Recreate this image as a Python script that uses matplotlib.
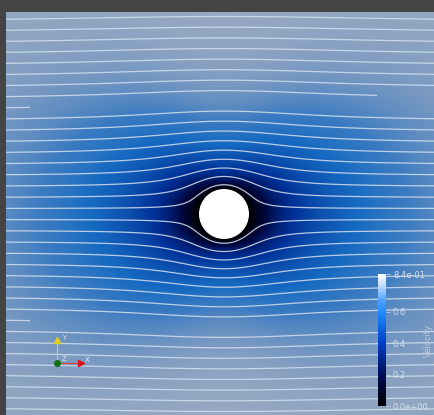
import numpy as np
import matplotlib
matplotlib.use("Agg")
import matplotlib.pyplot as plt
from matplotlib.colors import LinearSegmentedColormap, Normalize
from matplotlib.patches import Circle, Rectangle
from matplotlib.cm import ScalarMappable

# cylinder & flow (lengths in cylinder radii, centre at 0,0)
CYL_RADIUS = 1.0
U_INF = 0.78          # free stream speed
V_MIN, V_MAX = 0.0, 0.84
DIPOLE_R2 = 1.6       # effective dipole strength for streamline bending
DEFICIT_AMP = 0.75    # slow-down next to the body
DECAY_X, DECAY_Y = 3.8, 1.6    # how far the slow zone reaches (along / across flow)
WALL_X, WALL_Y = 0.9, 0.3      # no-slip layer thickness
LINE_SPACING = 11.0 / 25.0     # far field streamline spacing
N_LINES = 19
# seeds that ParaView only traced partly: (index, side, x from, x to)
BROKEN_LINES = [(9, 1, -9.0, -7.76), (10, 1, -9.0, 6.12), (9, -1, -9.0, -7.76)]

# view window
X_LIM = (-8.72, 8.44)
Y_LIM = (-8.04, 8.08)

# colour map nodes (value fraction -> colour)
CMAP_POS = [0.0, 0.24, 0.48, 0.71, 0.8, 0.9, 1.0]
CMAP_COL = ['#000000', '#000c5a', '#0040c8', '#1e8cff', '#4ea2ff', '#b4d4ff', '#ffffff']
SHADE = 0.76

CBAR_TICKS = [0.0, 0.2, 0.4, 0.6, 0.84]
CBAR_LABELS = ['0.0e+00', '0.2', '0.4', '0.6', '8.4e-01']
CBAR_TITLE = 'Velocity'

cmap = LinearSegmentedColormap.from_list('vel', list(zip(CMAP_POS, CMAP_COL)))
norm = Normalize(V_MIN, V_MAX)

x = np.linspace(X_LIM[0], X_LIM[1], 700)
y = np.linspace(Y_LIM[0], Y_LIM[1], 660)
X, Y = np.meshgrid(x, y)
R2 = X**2 + Y**2
R = np.sqrt(R2)
d = np.clip(R - CYL_RADIUS, 0, None)
c2 = X**2 / np.maximum(R2, 1e-9)

# speed magnitude
L = DECAY_Y + (DECAY_X - DECAY_Y) * c2
wall = WALL_Y + (WALL_X - WALL_Y) * c2
speed = U_INF * (1 - DEFICIT_AMP * np.exp(-d / L)) * np.tanh(d / wall)

# stream function
psi = Y * (R2 - 1) / (R2 + DIPOLE_R2 - 1)
psi = np.ma.masked_where(R2 < 1.0, psi)

rgb = cmap(norm(speed))[:, :, :3] * SHADE

fig = plt.figure(figsize=(4.35, 4.15), dpi=100, facecolor='#444444')
ax = fig.add_axes([6 / 435, 0, 429 / 435, 403 / 415])
ax.imshow(rgb, extent=(X_LIM[0], X_LIM[1], Y_LIM[0], Y_LIM[1]),
          origin='lower', interpolation='bilinear', aspect='auto')

line_kw = dict(colors='#d4e0ee', linewidths=0.9, alpha=0.85, linestyles='solid')
offs = (np.arange(N_LINES) + 0.5) * LINE_SPACING
broken = [(b[0], b[1]) for b in BROKEN_LINES]
levels = [s * o for i, o in enumerate(offs) for s in (-1, 1) if (i, s) not in broken]
ax.contour(X, Y, psi, levels=sorted(levels), **line_kw)
for idx, side, x0, x1 in BROKEN_LINES:
    cs = ax.contour(X, Y, psi, levels=[side * offs[idx]], **line_kw)
    y0 = 0 if side > 0 else Y_LIM[0]
    clip = Rectangle((x0, y0), x1 - x0, 8.1, transform=ax.transData)
    cs.set_clip_path(clip)

ax.add_patch(Circle((0, 0), CYL_RADIUS, facecolor='white', edgecolor='none', zorder=3))
ax.set_xlim(X_LIM)
ax.set_ylim(Y_LIM)
ax.axis('off')

# orientation triad
ox, oy = 51 / 429, (415 - 363) / 403
ax.plot([ox, ox], [oy, oy + 23 / 403], color='#d8d060', lw=0.8, transform=ax.transAxes)
ax.plot([ox, ox + 22 / 429], [oy, oy], color='#e04040', lw=0.8, transform=ax.transAxes)
ax.plot(ox, oy + 23 / 403, marker='^', ms=4, color='#e0d020', transform=ax.transAxes)
ax.plot(ox + 24 / 429, oy, marker='>', ms=4, color='#e01010', transform=ax.transAxes)
ax.plot(ox, oy, marker='o', ms=4, color='#107010', transform=ax.transAxes)
for lab, dx, dy in [('Y', 5, 25), ('X', 28, 3), ('Z', 5, 4)]:
    ax.text(ox + dx / 429, oy + dy / 403, lab, fontsize=5, color='#e8e8e8',
            transform=ax.transAxes, ha='left', va='center')

# colour bar
cax = fig.add_axes([378 / 435, 9 / 415, 8 / 435, 132 / 415])
cb = fig.colorbar(ScalarMappable(norm=norm, cmap=cmap), cax=cax)
cb.outline.set_visible(False)
cb.set_ticks(CBAR_TICKS)
cb.set_ticklabels(CBAR_LABELS)
cax.tick_params(length=3, width=0.6, color='#c8d2dc', labelsize=6,
                labelcolor='#d8e0ea', pad=2)
fig.text(428 / 435, (415 - 340) / 415, CBAR_TITLE, rotation=90, fontsize=6,
         color='#c0ccd8', ha='center', va='center')

fig.savefig('out.png', dpi=100, facecolor=fig.get_facecolor())
